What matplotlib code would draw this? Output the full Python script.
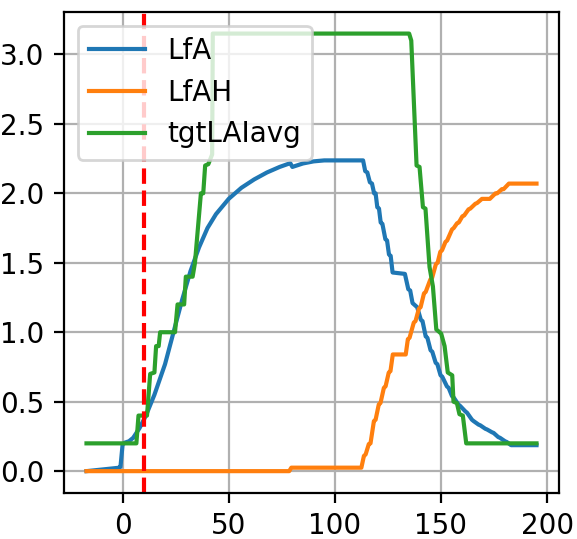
"""
plot.py -- LfA / LfAH / tgtLAIavg time series with a sowing marker.
"""
import matplotlib
matplotlib.use("Agg")
import matplotlib.pyplot as plt

# values (day, value) vertices
lfa_x = [-17, -2, -1, 0, 1, 3, 5, 8, 11, 15, 20, 24, 28, 32, 36, 40, 44, 50,
         56, 62, 68, 74, 79, 80, 85, 90, 95, 113.3, 114.3, 115.3, 116.5, 117.5,
         118.5, 119.2, 120, 120.8, 121.6, 122.4, 123.8, 124.6, 125.5, 126.3,
         127.2, 133, 134.6, 135.5, 136.6, 138.8, 140.5, 141.3, 142.8, 143.6,
         145.1, 145.9, 147.5, 148.3, 149.8, 150.6, 152.8, 153.6, 155.2, 156,
         158.2, 159, 161.5, 162.3, 164.6, 165.4, 167.7, 168.5, 170.9, 171.7,
         174, 174.8, 177, 177.8, 180.2, 181, 183, 195]
lfa_y = [0.0, 0.024, 0.03, 0.19, 0.205, 0.215, 0.24, 0.31, 0.40, 0.55, 0.77,
         1.0, 1.23, 1.44, 1.61, 1.75, 1.85, 1.96, 2.04, 2.10, 2.15, 2.19, 2.217,
         2.19, 2.215, 2.23, 2.237, 2.237, 2.16, 2.15, 2.08, 2.07, 2.0, 2.0, 1.9,
         1.89, 1.79, 1.78, 1.67, 1.66, 1.56, 1.55, 1.43, 1.42, 1.31, 1.30, 1.21,
         1.18, 1.09, 1.08, 0.97, 0.96, 0.87, 0.86, 0.78, 0.77, 0.69, 0.68, 0.61,
         0.60, 0.54, 0.53, 0.48, 0.47, 0.43, 0.42, 0.37, 0.36, 0.335, 0.33,
         0.305, 0.30, 0.28, 0.275, 0.245, 0.24, 0.215, 0.21, 0.187, 0.187]

lfah_x = [-17, 78.5, 79.5, 112.5, 113.7, 114.5, 116, 116.8, 118.4, 119.2, 120.7,
          121.5, 123.1, 123.9, 125.4, 126.2, 127.3, 133.4, 134.4, 135.2, 137.2,
          138, 139.6, 140.4, 142, 142.8, 145, 145.8, 147.6, 148.4, 149.7, 150.5,
          152.1, 152.9, 155.2, 156, 157.6, 158.4, 160.1, 160.9, 163, 163.8,
          166.2, 167, 169.3, 173, 175.7, 176.5, 178.7, 179.5, 182, 195]
lfah_y = [0.0, 0.0, 0.025, 0.025, 0.11, 0.12, 0.195, 0.20, 0.36, 0.37, 0.48,
          0.49, 0.60, 0.61, 0.71, 0.72, 0.84, 0.84, 0.95, 0.96, 1.07, 1.08, 1.17,
          1.18, 1.28, 1.29, 1.38, 1.39, 1.49, 1.50, 1.58, 1.59, 1.65, 1.66, 1.74,
          1.75, 1.785, 1.79, 1.835, 1.84, 1.885, 1.89, 1.925, 1.93, 1.96, 1.96,
          2.0, 2.0, 2.03, 2.03, 2.07, 2.07]

tgt_x = [-17, 6.5, 7.5, 11.5, 13, 15, 15.8, 17, 17.7, 24.7, 25.9, 29, 29.8, 33,
         34.1, 36.9, 38, 38.9, 40.4, 42.2, 42.5, 135, 136, 138.5, 139.9, 141.5,
         142.7, 144.6, 146.2, 147.8, 150.1, 151.7, 153.2, 155.3, 155.9, 157.5,
         158.7, 160.3, 161.9, 195]
tgt_y = [0.2, 0.2, 0.40, 0.40, 0.70, 0.71, 0.90, 0.90, 1.0, 1.0, 1.2, 1.2, 1.40,
         1.40, 1.50, 2.0, 2.0, 2.2, 2.21, 2.28, 3.15, 3.15, 3.10, 2.20, 2.19,
         1.90, 1.89, 1.47, 1.33, 1.02, 0.99, 0.90, 0.71, 0.69, 0.50, 0.49, 0.41,
         0.40, 0.20, 0.20]

sow_day = 10

plt.rcParams.update({"font.size": 10})
fig = plt.figure(figsize=(577 / 200, 539 / 200), dpi=200)
ax = fig.add_axes([0.1109, 0.0853, 0.8579, 0.893])
ax.plot(lfa_x, lfa_y, label="LfA")
ax.plot(lfah_x, lfah_y, label="LfAH")
ax.plot(tgt_x, tgt_y, label="tgtLAIavg")
ax.axvline(sow_day, color="r", ls="--", lw=1.5)
ax.grid(True)
ax.legend(loc="upper left")
fig.savefig("out.png", dpi=200)
plt.close(fig)
